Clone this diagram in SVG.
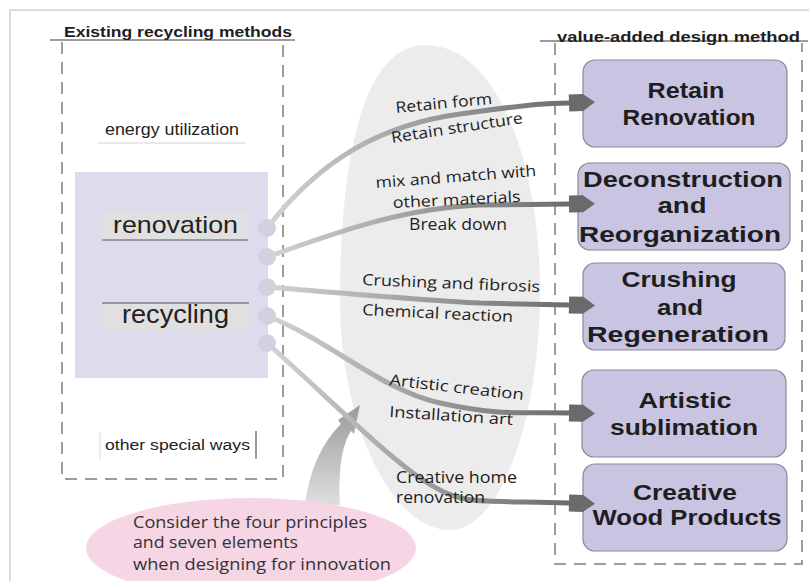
<svg xmlns="http://www.w3.org/2000/svg" width="809" height="581" viewBox="0 0 809 581">
<style>
.frame{fill:none;stroke:#cfcfcf;stroke-width:1.5}
.dash{fill:none;stroke:#9c9c9c;stroke-width:2;stroke-dasharray:12 8}
.solid{fill:none;stroke:#9c9c9c;stroke-width:2}
.title{font-family:"Liberation Sans",Arial,sans-serif;font-weight:bold;font-size:15px;fill:#1e1e1e}
.ltxt{font-family:"Liberation Sans",Arial,sans-serif;fill:#222}
.box{fill:#c9c4e2;stroke:#8a8898;stroke-width:1.2}
.btxt{font-family:"Liberation Sans",Arial,sans-serif;font-weight:bold;font-size:22px;fill:#1e1e1e;text-anchor:middle}
.lbl{font-family:"Open Sans","Noto Sans",sans-serif;font-size:15.5px;fill:#1e1e1e}
.conn{fill:none;stroke:url(#lg);stroke-width:5;marker-end:url(#ah)}
.dot{fill:#d3d1e0}
.pink{font-family:"Open Sans","Noto Sans",sans-serif;font-size:15.5px;fill:#333}
</style>
<defs>
<linearGradient id="lg" gradientUnits="userSpaceOnUse" x1="270" y1="0" x2="570" y2="0">
<stop offset="0" stop-color="#d2d2d2"/>
<stop offset="1" stop-color="#6c6c6c"/>
</linearGradient>
<linearGradient id="bg" gradientUnits="userSpaceOnUse" x1="0" y1="500" x2="0" y2="405">
<stop offset="0" stop-color="#dcdcdc"/>
<stop offset="1" stop-color="#9a9a9a"/>
</linearGradient>
<marker id="ah" markerUnits="userSpaceOnUse" markerWidth="30" markerHeight="20" refX="0" refY="0" viewBox="0 -10 30 20" orient="auto" overflow="visible">
<path d="M0,-8.5 L14,-8.5 L26,0 L14,8.5 L0,8.5 Z" fill="#6a6a6a"/>
</marker>
</defs>
<rect width="809" height="581" fill="#ffffff"/>
<path class="frame" d="M10,581 V10 H809"/>

<g id="background">
<path d="M425,45 C500,45 540,170 540,290 C540,420 500,530 450,530 C390,530 340,420 340,300 C340,170 360,45 425,45 Z" fill="#ececec"/>
</g>

<g id="existing-methods">
<path class="solid" d="M50,40 H295"/>
<path class="dash" d="M62,42 V479 H283 V42"/>
<text class="title" x="64" y="37" textLength="228" lengthAdjust="spacingAndGlyphs">Existing recycling methods</text>
</g>

<g id="energy-utilization">
<text class="ltxt" x="105" y="135" font-size="16.5" textLength="134" lengthAdjust="spacingAndGlyphs">energy utilization</text>
<line x1="98" y1="143" x2="245" y2="143" stroke="#d4d4d4" stroke-width="1.2"/>
</g>

<g id="methods-panel">
<rect x="75" y="172" width="193" height="206" fill="#dddbec"/>
</g>

<g id="renovation">
<rect x="102" y="212" width="146" height="28" fill="#e0e0e0"/>
<line x1="102" y1="240" x2="248" y2="240" stroke="#555" stroke-width="1.2"/>
<text class="ltxt" x="113" y="233" font-size="24" textLength="125" lengthAdjust="spacingAndGlyphs">renovation</text>
</g>

<g id="recycling">
<rect x="102" y="303" width="147" height="28" fill="#e0e0e0"/>
<line x1="102" y1="303" x2="249" y2="303" stroke="#555" stroke-width="1.2"/>
<text class="ltxt" x="122" y="323" font-size="25" textLength="107" lengthAdjust="spacingAndGlyphs">recycling</text>
</g>

<g id="other-special-ways">
<line x1="100" y1="432" x2="100" y2="459" stroke="#dddddd" stroke-width="1.2"/>
<line x1="256" y1="431" x2="256" y2="459" stroke="#555" stroke-width="1.2"/>
<text class="ltxt" x="105" y="450" font-size="15.5" textLength="145" lengthAdjust="spacingAndGlyphs">other special ways</text>
</g>

<g id="value-added-methods">
<path class="solid" d="M540,41 H808"/>
<path class="dash" d="M555,43 V564 H802 V43"/>
<text class="title" x="557" y="42" textLength="243" lengthAdjust="spacingAndGlyphs">value-added design method</text>
</g>

<g id="retain-renovation">
<rect class="box" x="583" y="60" width="204" height="87" rx="12"/>
<text class="btxt" x="686" y="98" textLength="77" lengthAdjust="spacingAndGlyphs">Retain</text>
<text class="btxt" x="689" y="125" textLength="133" lengthAdjust="spacingAndGlyphs">Renovation</text>
</g>

<g id="deconstruction">
<rect class="box" x="578" y="163" width="212" height="87" rx="12"/>
<text class="btxt" x="683" y="187" textLength="200" lengthAdjust="spacingAndGlyphs">Deconstruction</text>
<text class="btxt" x="682" y="213" textLength="49" lengthAdjust="spacingAndGlyphs">and</text>
<text class="btxt" x="680" y="242" textLength="202" lengthAdjust="spacingAndGlyphs">Reorganization</text>
</g>

<g id="crushing">
<rect class="box" x="583" y="263" width="202" height="87" rx="12"/>
<text class="btxt" x="679" y="287" textLength="115" lengthAdjust="spacingAndGlyphs">Crushing</text>
<text class="btxt" x="680" y="315" textLength="46" lengthAdjust="spacingAndGlyphs">and</text>
<text class="btxt" x="678" y="342" textLength="182" lengthAdjust="spacingAndGlyphs">Regeneration</text>
</g>

<g id="artistic">
<rect class="box" x="582" y="370" width="204" height="87" rx="12"/>
<text class="btxt" x="685" y="408" textLength="93" lengthAdjust="spacingAndGlyphs">Artistic</text>
<text class="btxt" x="684" y="435" textLength="148" lengthAdjust="spacingAndGlyphs">sublimation</text>
</g>

<g id="creative-wood">
<rect class="box" x="583" y="464" width="204" height="87" rx="12"/>
<text class="btxt" x="685" y="500" textLength="104" lengthAdjust="spacingAndGlyphs">Creative</text>
<text class="btxt" x="687" y="525" textLength="189" lengthAdjust="spacingAndGlyphs">Wood Products</text>
</g>

<g id="innovation">
<path d="M305,505 C310,465 325,440 341,424 L338,420 L360,405 L354,434 L351,431 C342,445 338,470 340,505 Z" fill="url(#bg)"/>
<ellipse cx="251" cy="548" rx="165" ry="50" fill="#f6d5e5"/>
<text class="pink" x="133" y="528" textLength="234" lengthAdjust="spacingAndGlyphs">Consider the four principles</text>
<text class="pink" x="133" y="548" textLength="165" lengthAdjust="spacingAndGlyphs">and seven elements</text>
<text class="pink" x="133" y="570" textLength="258" lengthAdjust="spacingAndGlyphs">when designing for innovation</text>
</g>

<g id="connectors">
<path class="conn" d="M267,228 C320,160 380,125 460,114 S540,104 569,103"/>
<path class="conn" d="M267,257 C330,235 400,208 480,205 L569,204"/>
<path class="conn" d="M267,287 C330,292 420,300 480,303 L569,305"/>
<path class="conn" d="M267,316 C330,340 380,390 440,403 S520,412 569,413"/>
<path class="conn" d="M267,343 C320,390 380,450 420,478 S470,500 569,503"/>
<circle class="dot" cx="267" cy="228" r="9"/>
<circle class="dot" cx="267" cy="257" r="9"/>
<circle class="dot" cx="267" cy="287" r="9"/>
<circle class="dot" cx="267" cy="316" r="9"/>
<circle class="dot" cx="267" cy="343" r="9"/>
</g>

<g id="labels">
<text class="lbl" x="396" y="113" textLength="97" lengthAdjust="spacingAndGlyphs" transform="rotate(-5.4 396 113)">Retain form</text>
<text class="lbl" x="392" y="143" textLength="133" lengthAdjust="spacingAndGlyphs" transform="rotate(-8.7 392 143)">Retain structure</text>
<text class="lbl" x="376" y="188" textLength="161" lengthAdjust="spacingAndGlyphs" transform="rotate(-4.3 376 188)">mix and match with</text>
<text class="lbl" x="393" y="208" textLength="128" lengthAdjust="spacingAndGlyphs" transform="rotate(-2.7 393 208)">other materials</text>
<text class="lbl" x="409" y="230" textLength="98" lengthAdjust="spacingAndGlyphs">Break down</text>
<text class="lbl" x="362" y="285" textLength="178" lengthAdjust="spacingAndGlyphs" transform="rotate(2.3 362 285)">Crushing and fibrosis</text>
<text class="lbl" x="362" y="315" textLength="151" lengthAdjust="spacingAndGlyphs" transform="rotate(2.7 362 315)">Chemical reaction</text>
<text class="lbl" x="389" y="385" textLength="135" lengthAdjust="spacingAndGlyphs" transform="rotate(6.4 389 385)">Artistic creation</text>
<text class="lbl" x="389" y="417" textLength="124" lengthAdjust="spacingAndGlyphs" transform="rotate(3.7 389 417)">Installation art</text>
<text class="lbl" x="396" y="483" textLength="121" lengthAdjust="spacingAndGlyphs">Creative home</text>
<text class="lbl" x="396" y="503" textLength="89" lengthAdjust="spacingAndGlyphs">renovation</text>
</g>
</svg>
